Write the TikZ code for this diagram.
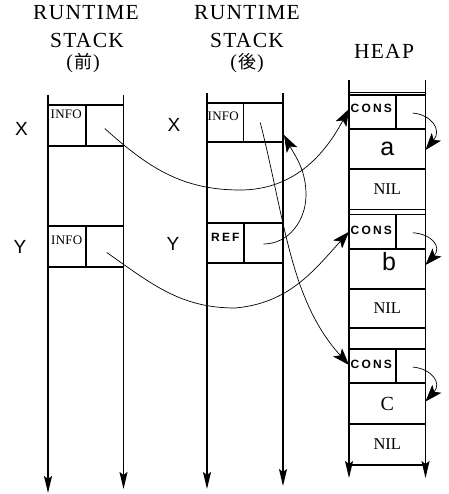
\documentclass[tikz,border=0pt]{standalone}
\usepackage{fontspec}
\setmainfont{Liberation Serif}
\setsansfont{Liberation Sans}
\newfontfamily\cjk{Noto Sans CJK JP}
\usetikzlibrary{arrows.meta,calc}
\begin{document}
\begin{tikzpicture}[x=1pt,y=-1pt,
  cell/.style={draw, line width=1.3pt, inner sep=0pt, outer sep=0pt, anchor=north west},
  rail/.style={line width=1.5pt, -{Stealth[length=17pt,width=8pt,inset=3pt]}},
  link/.style={line width=0.7pt, -{Stealth[length=17pt,width=12pt,inset=4pt]}},
  hdr/.style={font={\fontsize{21.5}{23}\selectfont\addfontfeature{LetterSpace=6}}, inner sep=0pt},
  hdrp/.style={font={\fontsize{20}{22}\selectfont}, inner sep=0pt},
  var/.style={font={\sffamily\fontsize{19}{21}\selectfont}, inner sep=0pt},
  infotxt/.style={font={\fontsize{13}{15}\selectfont\addfontfeature{LetterSpace=2}}, inner sep=0pt, anchor=west},
  boldtxt/.style={font={\sffamily\bfseries\fontsize{12}{14}\selectfont\addfontfeature{LetterSpace=18}}, inner sep=0pt, anchor=west},
  big/.style={font={\sffamily\fontsize{25}{27}\selectfont}},
  nil/.style={font={\fontsize{16.5}{18}\selectfont}}]
\useasboundingbox (0,0) rectangle (448,494);

% headers
\node[hdr] (h1a) at (86,13) {RUNTIME};
\node[hdr] (h1b) at (87,40) {STACK};
\node[hdrp] (h1c) at (83,63) {(\kern1pt{\cjk\fontsize{18}{20}\selectfont 前}\kern1pt)};
\node[hdr] (h2a) at (247,13) {RUNTIME};
\node[hdr] (h2b) at (247,40) {STACK};
\node[hdrp] (h2c) at (247,63) {(\kern1pt{\cjk\fontsize{18}{20}\selectfont 後}\kern1pt)};
\node[hdr] (h3) at (384,51) {HEAP};

% variable labels
\node[var] (x1) at (21.5,129) {X};
\node[var] (y1) at (20,247) {Y};
\node[var] (x2) at (174,125) {X};
\node[var] (y2) at (173,244) {Y};

% ---------- stack 1 ----------
\coordinate (s1lt) at (48,95);   \coordinate (s1lb) at (48,493);
\coordinate (s1rt) at (123.5,95); \coordinate (s1rb) at (123.5,489);
\draw[rail] (s1lt) -- (s1lb);
\draw[rail] (s1rt) -- (s1rb);
\node[cell, minimum width=38pt, minimum height=41pt] (s1xl) at (48,105) {};
\node[cell, minimum width=37.5pt, minimum height=41pt] (s1xr) at (86,105) {};
\node[cell, minimum width=75.5pt, minimum height=80pt] (s1m) at (48,146) {};
\node[cell, minimum width=38pt, minimum height=41pt] (s1yl) at (48,226) {};
\node[cell, minimum width=37.5pt, minimum height=41pt] (s1yr) at (86,226) {};
\node[infotxt] (t1) at (50.5,114.5) {INFO};
\node[infotxt] (t2) at (51,240) {INFO};

% ---------- stack 2 ----------
\coordinate (s2lt) at (207,93);   \coordinate (s2lb) at (207,489);
\coordinate (s2rt) at (283,93);   \coordinate (s2rb) at (283,486);
\draw[rail] (s2lt) -- (s2lb);
\draw[rail] (s2rt) -- (s2rb);
\node[cell, minimum width=36.5pt, minimum height=39pt] (s2xl) at (207,103) {};
\node[cell, minimum width=39.5pt, minimum height=39pt] (s2xr) at (243.5,103) {};
\node[cell, minimum width=76pt, minimum height=81pt] (s2m) at (207,142) {};
\node[cell, minimum width=37pt, minimum height=40pt] (s2rl) at (207,223) {};
\node[cell, minimum width=39pt, minimum height=40pt] (s2rr) at (244,223) {};
\node[infotxt] (t3) at (207.5,116) {INFO};
\node[boldtxt] (t4) at (211,237) {REF};

% ---------- heap ----------
\coordinate (hlt) at (349,80);   \coordinate (hlb) at (349,478);
\coordinate (hrt) at (425.5,80); \coordinate (hrb) at (425.5,478);
\draw[rail] (hlt) -- (hlb);
\draw[rail] (hrt) -- (hrb);
\node[cell, minimum width=76.5pt, minimum height=2.5pt] (htop) at (349,92.5) {};
\node[cell, minimum width=47pt, minimum height=34pt] (cal) at (349,95) {};
\node[cell, minimum width=29.5pt, minimum height=34pt] (car) at (396,95) {};
\node[cell, minimum width=76.5pt, minimum height=40pt, big] (arow) at (349,129) {a};
\node[cell, minimum width=76.5pt, minimum height=40.5pt, nil] (anil) at (349,169) {NIL};
\node[cell, minimum width=76.5pt, minimum height=5pt] (gap1) at (349,209.5) {};
\node[cell, minimum width=47pt, minimum height=34.5pt] (cbl) at (349,214.5) {};
\node[cell, minimum width=29.5pt, minimum height=34.5pt] (cbr) at (396,214.5) {};
\node[cell, minimum width=76.5pt, minimum height=40pt] (brow) at (349,249) {};
\node[big] (bt) at (389,262) {b};
\node[cell, minimum width=76.5pt, minimum height=39pt, nil] (bnil) at (349,289) {NIL};
\node[cell, minimum width=76.5pt, minimum height=21pt] (gap2) at (349,328) {};
\node[cell, minimum width=47pt, minimum height=34pt] (ccl) at (349,349) {};
\node[cell, minimum width=29.5pt, minimum height=34pt] (ccr) at (396,349) {};
\node[cell, minimum width=76.5pt, minimum height=41pt, font={\fontsize{20}{22}\selectfont}] (crow) at (349,383) {C};
\node[cell, minimum width=76.5pt, minimum height=41pt, nil] (cnil) at (349,424) {NIL};
\node[boldtxt] (t5) at (350.5,108) {CONS};
\node[boldtxt] (t6) at (350.5,230) {CONS};
\node[boldtxt] (t7) at (350.5,364) {CONS};

% ---------- pointers ----------
\draw[link] ($(s1xr.center)+(0,3)$) to[out=-42,in=180] (240,190) to[out=0,in=-118] ($(cal.west)+(0,-3)$);
\draw[link] ($(s1yr.center)+(2,6)$) to[out=-35,in=180] (235,308) to[out=5,in=-132] (cbl.west);
\draw[link] ($(s2xr.center)+(-3,0)$) .. controls (285,220) and (290,300) .. ($(ccl.west)+(0,-1)$);
\draw[link] ($(s2rr.center)+(0,1)$) to[out=0,in=-90] (306,195) to[out=90,in=-62] ($(s2xr.south east)+(1,-7)$);
\draw[link] ($(car.center)+(2,1)$) .. controls (432,115) and (442,130) .. ($(arow.east)+(0,1)$);
\draw[link] ($(cbr.center)+(2,1)$) .. controls (432,234) and (442,247) .. ($(brow.east)+(0,-4)$);
\draw[link] ($(ccr.center)+(2,1)$) .. controls (432,369) and (442,383) .. ($(crow.east)+(0,-2)$);
\end{tikzpicture}
\end{document}
